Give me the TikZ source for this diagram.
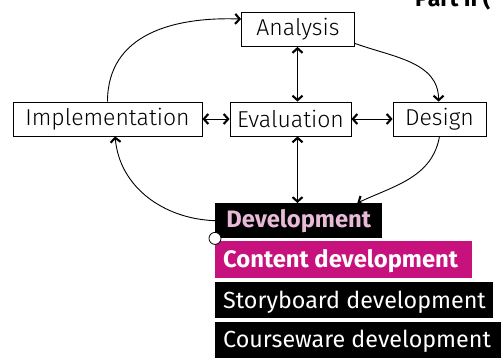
\documentclass[tikz,border=0pt]{standalone}
\usepackage{fontspec}
\setmainfont{Fira Sans}
\newfontfamily\lightfont{Fira Sans Light}
\usetikzlibrary{arrows.meta,calc}
\definecolor{mag}{RGB}{199,18,126}
\definecolor{pinktxt}{RGB}{232,186,216}
\begin{document}
\begin{tikzpicture}[x=1pt,y=-1pt,
  box/.style={draw, line width=0.8pt, inner sep=0pt, minimum height=34pt,
    font=\lightfont\fontsize{23}{26}\selectfont},
  bar/.style={anchor=north west, inner sep=0pt},
  bartext/.style={anchor=west, inner sep=0pt, font=\fontsize{23.3}{26}\selectfont},
  boldbar/.style={font=\bfseries\fontsize{23.8}{26}\selectfont},
  conn/.style={line width=0.9pt},
  tip/.tip={Straight Barb[length=4.5pt,width=10pt,line width=2.1pt]},
  >=tip
]
\useasboundingbox (0,0) rectangle (501,358);

\node[font=\bfseries\fontsize{23}{26}\selectfont, anchor=base west, inner sep=0pt] (part) at (415,6.5) {Part II (};

\node[box, minimum width=113pt] (ana) at (298,29.5) {Analysis};
\node[box, minimum width=121pt] (eva) at (290.5,119) {Evaluation};
\node[box, minimum width=189pt] (imp) at (107.5,119) {Implementation};
\node[box, minimum width=93pt] (des) at (439.5,119) {Design};

\node[bar, fill=black, minimum width=167pt, minimum height=35pt] (dev) at (215,203) {};
\node[bar, fill=mag, minimum width=257pt, minimum height=37pt] (con) at (215,241) {};
\node[bar, fill=black, minimum width=278pt, minimum height=36pt] (sto) at (215,282) {};
\node[bar, fill=black, minimum width=300pt, minimum height=36pt] (cou) at (215,322) {};

\node[bartext, boldbar, text=pinktxt, anchor=center] (devt) at ($(dev.center)+(0,1.5)$) {\strut Development};
\node[bartext, boldbar, text=white] (cont) at ($(con.west)+(8,2.5)$) {\strut Content development};
\node[bartext, text=white] (stot) at ($(sto.west)+(8,3)$) {\strut Storyboard development};
\node[bartext, text=white] (cout) at ($(cou.west)+(8,2.5)$) {\strut Courseware development};

% connectors
\coordinate (a1) at ($(ana.north west)!0.2!(ana.south west)$);
\coordinate (i1) at ($(imp.north west)!0.5!(imp.north east)$);
\draw[conn,->] (i1) to[out=90, in=178, looseness=1.1] (a1);

\coordinate (a2) at ($(ana.north east)!0.9!(ana.south east)$);
\coordinate (d1) at ($(des.north west)!0.49!(des.north east)$);
\draw[conn,->] (a2) to[out=-20, in=90] (d1);

\coordinate (ae) at ($(ana.south)+(-0.5,0)$);
\draw[conn,<->] (ae) -- (ae |- eva.north);
\draw[conn,<->] (imp.east) -- (eva.east -| eva.west);
\draw[conn,<->] (eva.east) -- (des.west);
\draw[conn,<->] (eva.south -| ae) -- (ae |- dev.north);

\coordinate (dv1) at ($(dev.north west)!0.85!(dev.north east)$);
\draw[conn,->] (des.south) to[out=-100, in=25] (dv1);

\coordinate (i2) at ($(imp.south west)!0.54!(imp.south east)$);
\coordinate (dw) at ($(dev.north west)!0.5!(dev.south west)$);
\draw[conn,->] (dw) to[out=178, in=-85] (i2);

\node[draw, fill=white, circle, line width=0.8pt, minimum size=12pt, inner sep=0pt] (circ) at (dev.south west) {};
\end{tikzpicture}
\end{document}
